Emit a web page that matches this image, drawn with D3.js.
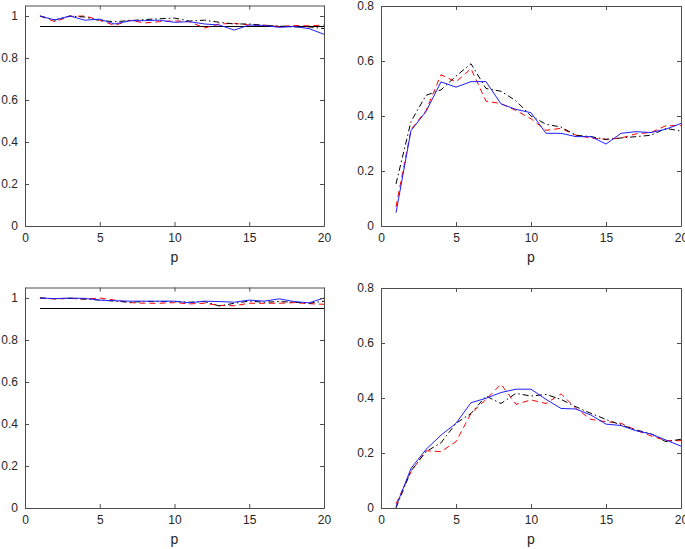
<!DOCTYPE html>
<html>
<head>
<meta charset="utf-8">
<script src="https://cdn.jsdelivr.net/npm/d3@7"></script>
<style>
  body { margin: 0; background: #fff; }
  svg { display: block; }
  text { font-family: "Liberation Sans", Arial, sans-serif; }
</style>
</head>
<body>
<div id="chart"></div>
<script>
// data
const p = [1, 2, 3, 4, 5, 6, 7, 8, 9, 10, 11, 12, 13, 14, 15, 16, 17, 18, 19, 20];
const level = 0.95;
const xTicks = [0, 5, 10, 15, 20];
const yTicksLeft = [0, 0.2, 0.4, 0.6, 0.8, 1];
const yTicksRight = [0, 0.2, 0.4, 0.6, 0.8];

const tlBlue  = [1.0, 0.981, 1.0, 0.98, 0.985, 0.962, 0.977, 0.978, 0.98, 0.97, 0.973, 0.962, 0.957, 0.933, 0.957, 0.955, 0.946, 0.95, 0.94, 0.913];
const tlRed   = [1.0, 0.973, 0.998, 1.0, 0.98, 0.955, 0.98, 0.967, 0.973, 0.977, 0.973, 0.943, 0.962, 0.965, 0.957, 0.957, 0.95, 0.955, 0.953, 0.957];
const tlBlack = [1.0, 0.981, 1.0, 0.995, 0.978, 0.973, 0.978, 0.983, 0.987, 0.99, 0.976, 0.98, 0.97, 0.962, 0.962, 0.955, 0.952, 0.948, 0.948, 0.94];

const trBlue  = [0.048, 0.347, 0.416, 0.524, 0.505, 0.525, 0.525, 0.444, 0.424, 0.412, 0.337, 0.337, 0.325, 0.325, 0.298, 0.337, 0.343, 0.34, 0.352, 0.373];
const trRed   = [0.07, 0.35, 0.42, 0.55, 0.524, 0.572, 0.454, 0.445, 0.42, 0.39, 0.348, 0.355, 0.33, 0.32, 0.315, 0.32, 0.335, 0.34, 0.365, 0.365];
const trBlack = [0.153, 0.38, 0.475, 0.495, 0.545, 0.59, 0.5, 0.49, 0.455, 0.4, 0.37, 0.36, 0.33, 0.325, 0.315, 0.32, 0.325, 0.33, 0.355, 0.345];

const blBlue  = [1.0, 0.997, 1.0, 0.998, 0.99, 0.987, 0.985, 0.985, 0.985, 0.985, 0.977, 0.985, 0.983, 0.98, 0.99, 0.985, 0.996, 0.983, 0.977, 1.0];
const blRed   = [1.0, 0.995, 0.998, 0.995, 1.0, 0.99, 0.978, 0.975, 0.975, 0.978, 0.972, 0.975, 0.965, 0.963, 0.975, 0.975, 0.975, 0.978, 0.973, 0.97];
const blBlack = [1.0, 0.997, 0.998, 0.995, 0.99, 0.985, 0.98, 0.983, 0.983, 0.983, 0.98, 0.983, 0.962, 0.975, 0.985, 0.98, 0.983, 0.98, 0.975, 0.985];

const brBlue  = [0.005, 0.144, 0.213, 0.265, 0.308, 0.383, 0.399, 0.42, 0.432, 0.432, 0.395, 0.362, 0.36, 0.338, 0.305, 0.3, 0.281, 0.269, 0.247, 0.225];
const brRed   = [0.015, 0.132, 0.208, 0.205, 0.241, 0.344, 0.395, 0.45, 0.377, 0.393, 0.38, 0.415, 0.362, 0.322, 0.314, 0.308, 0.283, 0.262, 0.245, 0.245];
const brBlack = [0.0, 0.135, 0.205, 0.237, 0.308, 0.344, 0.407, 0.38, 0.417, 0.407, 0.413, 0.395, 0.368, 0.344, 0.322, 0.302, 0.284, 0.27, 0.241, 0.25];

const width = 685, height = 549;

const styles = [
  {color: "#ff0000", dash: "6,4"},
  {color: "#000000", dash: "6,3,1.5,3"},
  {color: "#1f1fff", dash: null}
];

const panels = [
  {left: 25,  right: 324, top: 5.5, bottom: 226, ymax: 1.05, yTicks: yTicksLeft,  series: [tlRed, tlBlack, tlBlue], ref: true},
  {left: 381, right: 681, top: 6,   bottom: 226, ymax: 0.8,  yTicks: yTicksRight, series: [trRed, trBlack, trBlue], ref: false},
  {left: 25,  right: 324, top: 287.5, bottom: 508, ymax: 1.05, yTicks: yTicksLeft,  series: [blRed, blBlack, blBlue], ref: true},
  {left: 381, right: 681, top: 288, bottom: 508, ymax: 0.8,  yTicks: yTicksRight, series: [brRed, brBlack, brBlue], ref: false}
];

const svg = d3.select("#chart").append("svg")
  .attr("width", width)
  .attr("height", height);

panels.forEach(pn => {
  const x = d3.scaleLinear().domain([0, 20]).range([pn.left, pn.right]);
  const y = d3.scaleLinear().domain([0, pn.ymax]).range([pn.bottom, pn.top]);
  const g = svg.append("g");

  const line = d3.line().x((d, i) => x(p[i])).y(d => y(d));

  if (pn.ref) {
    g.append("line")
      .attr("x1", x(p[0])).attr("x2", x(p[p.length - 1]))
      .attr("y1", y(level)).attr("y2", y(level))
      .attr("stroke", "#000").attr("stroke-width", 1.1);
  }

  pn.series.forEach((s, k) => {
    g.append("path")
      .datum(s)
      .attr("fill", "none")
      .attr("stroke", styles[k].color)
      .attr("stroke-width", 1)
      .attr("stroke-dasharray", styles[k].dash)
      .attr("d", line);
  });

  // axes, matlab style: ticks inward on all four sides
  const fmt = d => String(d);
  const ax = (sel) => sel.selectAll("path.domain").attr("stroke", "#4d4d4d");

  g.append("g")
    .attr("transform", `translate(0,${pn.bottom})`)
    .call(d3.axisBottom(x).tickValues(xTicks).tickFormat(fmt).tickSizeInner(-4).tickSizeOuter(0).tickPadding(7))
    .call(ax);
  g.append("g")
    .attr("transform", `translate(0,${pn.top})`)
    .call(d3.axisTop(x).tickValues(xTicks).tickFormat("").tickSizeInner(-4).tickSizeOuter(0))
    .call(ax);
  g.append("g")
    .attr("transform", `translate(${pn.left},0)`)
    .call(d3.axisLeft(y).tickValues(pn.yTicks).tickFormat(fmt).tickSizeInner(-4).tickSizeOuter(0).tickPadding(7))
    .call(ax);
  g.append("g")
    .attr("transform", `translate(${pn.right},0)`)
    .call(d3.axisRight(y).tickValues(pn.yTicks).tickFormat("").tickSizeInner(-4).tickSizeOuter(0))
    .call(ax);

  g.selectAll(".tick line").attr("stroke", "#4d4d4d");
  g.selectAll(".tick text")
    .attr("fill", "#262626")
    .style("font-size", "12px")
    .style("font-family", "'Liberation Sans', Arial, sans-serif");

  g.append("text")
    .attr("x", (pn.left + pn.right) / 2)
    .attr("y", pn.bottom + 36)
    .attr("text-anchor", "middle")
    .attr("fill", "#262626")
    .style("font-size", "14px")
    .text("p");
});
</script>
</body>
</html>
